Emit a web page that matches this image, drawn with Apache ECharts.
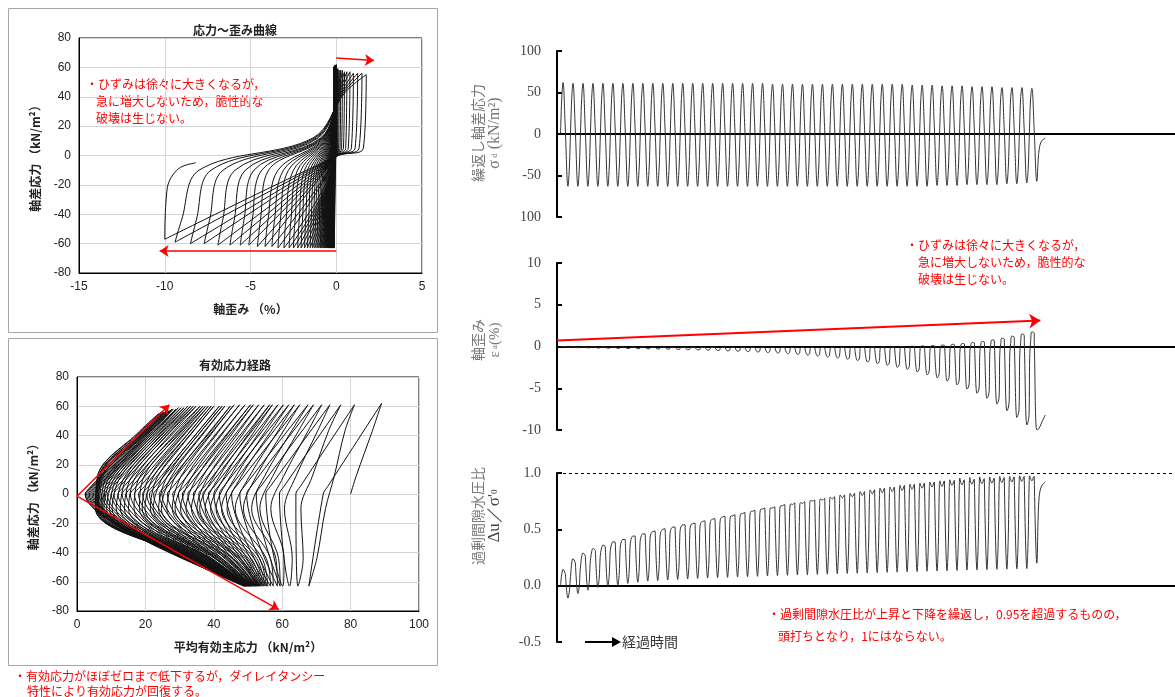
<!DOCTYPE html>
<html>
<head>
<meta charset="utf-8">
<script src="https://cdn.jsdelivr.net/npm/echarts@6.0.0/dist/echarts.min.js"></script>
<style>
  html, body { margin: 0; padding: 0; background: #fff; }
  #chart { width: 1175px; height: 697px; }
</style>
</head>
<body>
<div id="chart"></div>
<script>
// cycle i is sampled at fixed instants: on the way up at stress levels -44, -10, +12, +43,
// then at the peak, at +5 and 0 on the way down, and at the trough
const riseOffsets = [-0.125, -0.026, 0.032, 0.125];
const riseLevels = [-44, -10, 12, 43];
const fallOffset = 0.487;
const fallLevel = 5;

const stressPeak = [62, 61, 61, 61, 61, 61, 61, 61, 61, 61, 61, 61, 61, 61, 61, 61, 61, 61, 61, 61,
  61, 60, 60, 60, 60, 60, 60, 60, 60, 60, 60, 60, 60, 60, 60, 59, 59, 59, 58, 58,
  58, 57, 57, 57, 56, 56, 56, 55];
const stressTrough = [-63, -63, -63, -63, -63, -63, -63, -63, -63, -63, -63, -63, -63, -63, -63, -63, -63, -63, -63, -63,
  -63, -63, -63, -63, -63, -63, -63, -63, -63, -63, -63, -63, -63, -63, -63, -63, -63, -62, -62, -62,
  -61, -61, -61, -61, -60, -60, -59, -57];

// axial strain (%)
const strainRiseLow = [null, -0.11, -0.13, -0.15, -0.17, -0.19, -0.21, -0.23, -0.25, -0.27, -0.29, -0.31, -0.34, -0.36, -0.39, -0.42, -0.46, -0.5, -0.54, -0.59,
  -0.63, -0.69, -0.75, -0.82, -0.89, -0.98, -1.08, -1.2, -1.32, -1.46, -1.61, -1.78, -1.97, -2.16, -2.4, -2.64, -2.93, -3.26, -3.6, -3.98,
  -4.42, -4.9, -5.38, -5.95, -6.62, -7.39, -8.16, -9.02];
const strainKneeLow = [null, -0.1, -0.11, -0.13, -0.15, -0.16, -0.18, -0.2, -0.21, -0.23, -0.25, -0.26, -0.29, -0.31, -0.34, -0.36, -0.39, -0.43, -0.46, -0.5,
  -0.54, -0.59, -0.64, -0.7, -0.76, -0.84, -0.93, -1.03, -1.13, -1.25, -1.38, -1.52, -1.68, -1.85, -2.05, -2.26, -2.5, -2.79, -3.08, -3.4,
  -3.95, -4.35, -4.8, -5.3, -5.9, -6.6, -7.3, -8.0];
const strainKneeHigh = [0, -0.03, -0.04, -0.04, -0.05, -0.05, -0.06, -0.06, -0.07, -0.07, -0.08, -0.08, -0.09, -0.1, -0.1, -0.11, -0.12, -0.13, -0.14, -0.15,
  -0.16, -0.17, -0.18, -0.2, -0.21, -0.23, -0.25, -0.27, -0.29, -0.31, -0.34, -0.37, -0.4, -0.44, -0.48, -0.52, -0.56, -0.6, -0.65, -0.7,
  -0.75, -0.8, -0.85, -0.9, -1.05, -1.15, -1.25, -1.35];
const strainRiseMid = [0, -0.02, -0.03, -0.03, -0.04, -0.04, -0.05, -0.05, -0.06, -0.06, -0.07, -0.07, -0.08, -0.08, -0.09, -0.09, -0.1, -0.1, -0.1, -0.11,
  -0.11, -0.12, -0.12, -0.12, -0.12, -0.12, -0.12, -0.11, -0.1, -0.09, -0.08, -0.07, -0.06, -0.05, -0.03, 0, 0.02, 0.03, 0.05, 0.07,
  0.1, 0.13, 0.17, 0.22, 0.28, 0.35, 0.43, 0.52];
const strainPeak = [0, -0.02, -0.03, -0.03, -0.04, -0.04, -0.05, -0.05, -0.06, -0.06, -0.07, -0.07, -0.08, -0.08, -0.09, -0.09, -0.1, -0.1, -0.1, -0.11,
  -0.11, -0.12, -0.12, -0.12, -0.12, -0.12, -0.12, -0.11, -0.1, -0.09, -0.08, -0.06, -0.04, -0.02, 0, 0.03, 0.06, 0.1, 0.17, 0.26,
  0.36, 0.48, 0.62, 0.8, 1.0, 1.25, 1.5, 1.75];
const strainFall = [-0.02, -0.04, -0.05, -0.05, -0.06, -0.06, -0.07, -0.07, -0.08, -0.08, -0.09, -0.09, -0.1, -0.1, -0.11, -0.11, -0.12, -0.12, -0.12, -0.13,
  -0.13, -0.14, -0.14, -0.14, -0.14, -0.14, -0.14, -0.13, -0.12, -0.11, -0.1, -0.08, -0.06, -0.04, -0.02, 0.02, 0.05, 0.08, 0.14, 0.22,
  0.31, 0.42, 0.55, 0.7, 0.88, 1.1, 1.33, 1.58];
const strainDown = [-0.03, -0.05, -0.06, -0.06, -0.07, -0.07, -0.08, -0.08, -0.09, -0.09, -0.1, -0.1, -0.11, -0.11, -0.12, -0.12, -0.13, -0.13, -0.13, -0.14,
  -0.14, -0.15, -0.15, -0.15, -0.15, -0.15, -0.15, -0.14, -0.13, -0.12, -0.11, -0.09, -0.07, -0.05, -0.03, 0, 0, 0.02, 0.03, 0.04,
  0.05, 0.06, 0.07, 0.08, 0.08, 0.09, 0.1, 0.1];
const strainTrough = [-0.12, -0.14, -0.16, -0.18, -0.2, -0.22, -0.24, -0.26, -0.28, -0.3, -0.32, -0.35, -0.38, -0.41, -0.44, -0.48, -0.52, -0.56, -0.61, -0.66,
  -0.72, -0.78, -0.85, -0.93, -1.02, -1.13, -1.25, -1.38, -1.52, -1.68, -1.85, -2.05, -2.25, -2.5, -2.75, -3.05, -3.4, -3.75, -4.15, -4.6,
  -5.1, -5.6, -6.2, -6.9, -7.7, -8.5, -9.4, -10.0];

// excess pore water pressure ratio Δu/σ'0
const ruRiseLow = [null, -0.06, -0.01, 0.03, 0.06, 0.08, 0.09, 0.11, 0.125, 0.14, 0.15, 0.16, 0.17, 0.18, 0.19, 0.2, 0.21, 0.22, 0.224, 0.23,
  0.245, 0.25, 0.26, 0.265, 0.273, 0.287, 0.293, 0.3, 0.307, 0.313, 0.326, 0.33, 0.335, 0.34, 0.345, 0.35, 0.355, 0.36, 0.365, 0.37,
  0.375, 0.38, 0.383, 0.386, 0.39, 0.393, 0.396, 0.4];
const ruKneeLow = [null, 0.05, 0.14, 0.2, 0.25, 0.29, 0.32, 0.35, 0.38, 0.41, 0.43, 0.45, 0.47, 0.49, 0.51, 0.52, 0.54, 0.56, 0.58, 0.6,
  0.61, 0.63, 0.65, 0.66, 0.68, 0.69, 0.71, 0.72, 0.73, 0.75, 0.77, 0.785, 0.8, 0.815, 0.83, 0.84, 0.85, 0.86, 0.865, 0.87,
  0.875, 0.88, 0.88, 0.885, 0.885, 0.89, 0.89, 0.89];
const ruKneeHigh = [0.03, 0.11, 0.19, 0.25, 0.295, 0.335, 0.365, 0.395, 0.42, 0.45, 0.47, 0.49, 0.51, 0.53, 0.55, 0.57, 0.59, 0.61, 0.63, 0.65,
  0.67, 0.69, 0.705, 0.72, 0.735, 0.755, 0.77, 0.785, 0.805, 0.82, 0.835, 0.85, 0.865, 0.875, 0.89, 0.9, 0.91, 0.92, 0.93, 0.94,
  0.955, 0.96, 0.965, 0.965, 0.97, 0.97, 0.975, 0.975];
const ruRiseMid = [0.1, 0.2, 0.26, 0.3, 0.335, 0.37, 0.395, 0.425, 0.445, 0.47, 0.49, 0.51, 0.53, 0.545, 0.565, 0.585, 0.605, 0.62, 0.64, 0.66,
  0.68, 0.69, 0.71, 0.725, 0.735, 0.755, 0.765, 0.78, 0.795, 0.805, 0.82, 0.835, 0.845, 0.855, 0.865, 0.875, 0.885, 0.895, 0.9, 0.91,
  0.915, 0.92, 0.925, 0.93, 0.935, 0.94, 0.945, 0.95];
const ruPeak = [0.145, 0.24, 0.29, 0.33, 0.36, 0.39, 0.41, 0.44, 0.46, 0.48, 0.5, 0.52, 0.54, 0.55, 0.57, 0.59, 0.61, 0.62, 0.64, 0.66,
  0.68, 0.69, 0.71, 0.72, 0.73, 0.75, 0.76, 0.77, 0.78, 0.79, 0.8, 0.815, 0.825, 0.835, 0.845, 0.855, 0.865, 0.875, 0.88, 0.89,
  0.895, 0.9, 0.905, 0.91, 0.915, 0.92, 0.925, 0.93];
const ruFall = [0.105, 0.205, 0.265, 0.315, 0.35, 0.385, 0.41, 0.44, 0.46, 0.485, 0.505, 0.52, 0.54, 0.555, 0.575, 0.595, 0.615, 0.63, 0.65, 0.67,
  0.69, 0.7, 0.72, 0.735, 0.745, 0.76, 0.775, 0.79, 0.805, 0.82, 0.835, 0.85, 0.865, 0.875, 0.89, 0.9, 0.91, 0.92, 0.93, 0.935,
  0.94, 0.945, 0.95, 0.955, 0.96, 0.965, 0.97, 0.97];
const ruDown = [0.1, 0.2, 0.26, 0.31, 0.345, 0.38, 0.405, 0.435, 0.455, 0.48, 0.5, 0.52, 0.54, 0.555, 0.575, 0.595, 0.615, 0.63, 0.65, 0.67,
  0.69, 0.7, 0.72, 0.735, 0.745, 0.76, 0.775, 0.79, 0.805, 0.82, 0.835, 0.85, 0.865, 0.875, 0.89, 0.9, 0.91, 0.92, 0.93, 0.935,
  0.94, 0.945, 0.95, 0.955, 0.96, 0.965, 0.97, 0.97];
const ruTrough = [-0.11, -0.07, -0.04, -0.015, -0.005, 0.005, 0.02, 0.03, 0.04, 0.045, 0.05, 0.055, 0.06, 0.064, 0.068, 0.071, 0.074, 0.077, 0.08, 0.083,
  0.086, 0.089, 0.092, 0.095, 0.098, 0.1, 0.102, 0.105, 0.108, 0.11, 0.113, 0.116, 0.118, 0.12, 0.123, 0.125, 0.128, 0.13, 0.132, 0.135,
  0.138, 0.14, 0.142, 0.145, 0.147, 0.15, 0.152, 0.2];

// unloading after the last trough
const tailTime = [47.95, 48.2, 48.6];
const tailStress = [-22, -9, -5];
const tailStrain = [-9.85, -9.2, -8.2];
const tailRu = [0.75, 0.88, 0.92];

const sigma0 = 80; // initial effective confining stress (kN/m2)

const samples = [[0, 0, 0, 0]];
for (let i = 0; i < stressPeak.length; i++) {
  const rise = [
    [strainRiseLow[i], ruRiseLow[i]],
    [strainKneeLow[i], ruKneeLow[i]],
    [strainKneeHigh[i], ruKneeHigh[i]],
    [strainRiseMid[i], ruRiseMid[i]]
  ];
  rise.forEach((r, k) => {
    if (r[0] !== null) samples.push([i + riseOffsets[k], riseLevels[k], r[0], r[1]]);
  });
  samples.push([i + 0.25, stressPeak[i], strainPeak[i], ruPeak[i]]);
  samples.push([i + fallOffset, fallLevel, strainFall[i], ruFall[i]]);
  samples.push([i + 0.5, 0, strainDown[i], ruDown[i]]);
  samples.push([i + 0.75, stressTrough[i], strainTrough[i], ruTrough[i]]);
}
tailTime.forEach((t, k) => samples.push([t, tailStress[k], tailStrain[k], tailRu[k]]));

const stressStrain = samples.map(s => [s[2], s[1]]);
const stressPath = samples.map(s => [sigma0 * (1 - s[3]) + s[1] / 3, s[1]]);
const stressTime = samples.map(s => [s[0], s[1]]);
const strainTime = samples.map(s => [s[0], s[2]]);
const ruTime = samples.map(s => [s[0], s[3]]);

const JP = '"Noto Sans CJK JP", sans-serif';
const RED = '#ff0000';

function boxAxis(min, max, interval, name, gap) {
  return {
    type: 'value', min, max, interval,
    name, nameLocation: 'middle', nameGap: gap,
    nameTextStyle: { fontFamily: JP, fontSize: 12, fontWeight: 'bold', color: '#222' },
    axisLine: { onZero: false, lineStyle: { color: '#000', width: 1 } },
    axisTick: { show: false },
    axisLabel: { fontFamily: 'Liberation Sans', fontSize: 12, color: '#222', margin: 8 },
    splitLine: { lineStyle: { color: '#d4d4d4', width: 1 } }
  };
}

function timeAxis(idx) {
  return {
    type: 'value', gridIndex: idx, min: -0.35, max: 61.6,
    axisLine: { onZero: true, lineStyle: { color: '#000', width: 2 } },
    axisTick: { show: false }, axisLabel: { show: false }, splitLine: { show: false }
  };
}

function levelAxis(idx, min, max, interval, fmt) {
  return {
    type: 'value', gridIndex: idx, min, max, interval,
    axisLine: { show: true, onZero: false, lineStyle: { color: '#000', width: 2 } },
    axisTick: { show: true, inside: true, length: 5, lineStyle: { color: '#000', width: 2 } },
    axisLabel: { fontFamily: 'Liberation Serif', fontSize: 14, color: '#444', margin: 16, formatter: fmt },
    splitLine: { show: false }
  };
}

function greyName(lines, x, y) {
  return lines.map((t, k) => ({
    type: 'text', x: x + k * 17, y, rotation: Math.PI / 2,
    style: { text: t.text, rich: t.rich, font: '14px ' + JP, fill: '#777', align: 'center', verticalAlign: 'middle' }
  }));
}

function redText(text, x, y) {
  return { type: 'text', x, y, style: { text, font: '12px ' + JP, fill: RED, verticalAlign: 'middle' } };
}

const serifRich = (size, color) => ({
  g: { fontFamily: 'Liberation Serif', fontSize: size, fill: color },
  sub: { fontFamily: 'Liberation Serif', fontSize: 9, fill: color }
});

const chart = echarts.init(document.getElementById('chart'));

chart.setOption({
  animation: false,
  backgroundColor: '#fff',
  title: [
    { text: '応力～歪み曲線', left: 230, top: 19, textAlign: 'center',
      textStyle: { fontFamily: JP, fontSize: 12, fontWeight: 'bold', color: '#222' } },
    { text: '有効応力経路', left: 230, top: 354, textAlign: 'center',
      textStyle: { fontFamily: JP, fontSize: 12, fontWeight: 'bold', color: '#222' } }
  ],
  grid: [
    { left: 79, top: 38, width: 343, height: 235, show: true, borderColor: '#000', borderWidth: 1 },
    { left: 77, top: 377, width: 342, height: 234, show: true, borderColor: '#000', borderWidth: 1 },
    { left: 557, top: 51, right: 0, height: 166 },
    { left: 557, top: 263, right: 0, height: 167 },
    { left: 557, top: 473, right: 0, height: 169 }
  ],
  xAxis: [
    Object.assign(boxAxis(-15, 5, 5, '軸歪み （%）', 30), { gridIndex: 0 }),
    Object.assign(boxAxis(0, 100, 20, '平均有効主応力 （kN/m²）', 30), { gridIndex: 1 }),
    timeAxis(2), timeAxis(3), timeAxis(4)
  ],
  yAxis: [
    Object.assign(boxAxis(-80, 80, 20, '軸差応力 （kN/m²）', 38), { gridIndex: 0 }),
    Object.assign(boxAxis(-80, 80, 20, '軸差応力 （kN/m²）', 38), { gridIndex: 1 }),
    levelAxis(2, -100, 100, 50, v => (v === -100 ? '100' : String(v))),
    levelAxis(3, -10, 10, 5, v => String(v)),
    levelAxis(4, -0.5, 1.0, 0.5, v => v.toFixed(1))
  ],
  series: [
    {
      type: 'line', xAxisIndex: 0, yAxisIndex: 0, data: stressStrain,
      smooth: 0.35, showSymbol: false, lineStyle: { color: '#111', width: 1 },
      markLine: {
        silent: true, symbol: ['none', 'arrow'], symbolSize: 9, label: { show: false },
        lineStyle: { color: RED, width: 1.5, type: 'solid' },
        data: [
          [{ coord: [0, 66.3] }, { coord: [2.2, 64.6] }],
          [{ coord: [0, -65] }, { coord: [-10.3, -65] }]
        ]
      }
    },
    {
      type: 'line', xAxisIndex: 1, yAxisIndex: 1, data: stressPath,
      smooth: 0.35, showSymbol: false, lineStyle: { color: '#111', width: 1 },
      markLine: {
        silent: true, symbol: ['none', 'arrow'], symbolSize: 9, label: { show: false },
        lineStyle: { color: RED, width: 1.5, type: 'solid' },
        data: [
          [{ coord: [0, -1.5] }, { coord: [27, 61] }],
          [{ coord: [0, -1.5] }, { coord: [59, -79] }]
        ]
      }
    },
    {
      type: 'line', xAxisIndex: 2, yAxisIndex: 2, data: stressTime,
      smooth: 0.4, showSymbol: false, lineStyle: { color: '#333', width: 1 }
    },
    {
      type: 'line', xAxisIndex: 3, yAxisIndex: 3, data: strainTime,
      smooth: 0.4, showSymbol: false, lineStyle: { color: '#333', width: 1 },
      markLine: {
        silent: true, symbol: ['none', 'arrow'], symbolSize: 11, label: { show: false },
        lineStyle: { color: RED, width: 2, type: 'solid' },
        data: [[{ coord: [-0.35, 0.72] }, { coord: [48.1, 3.1] }]]
      }
    },
    {
      type: 'line', xAxisIndex: 4, yAxisIndex: 4, data: ruTime,
      smooth: 0.4, showSymbol: false, lineStyle: { color: '#333', width: 1 },
      markLine: {
        silent: true, symbol: 'none', label: { show: false },
        lineStyle: { color: '#000', width: 1, type: [3, 3] },
        data: [{ yAxis: 1 }]
      }
    }
  ],
  graphic: [
    { type: 'rect', shape: { x: 8.5, y: 8.5, width: 429, height: 324 }, style: { fill: null, stroke: '#a6a6a6', lineWidth: 1 } },
    { type: 'rect', shape: { x: 8.5, y: 338.5, width: 429, height: 327 }, style: { fill: null, stroke: '#a6a6a6', lineWidth: 1 } },

    redText('・ひずみは徐々に大きくなるが，', 86, 84),
    redText('急に増大しないため，脆性的な', 96, 101),
    redText('破壊は生じない。', 96, 118),
    redText('・有効応力がほぼゼロまで低下するが，ダイレイタンシー', 14, 676),
    redText('特性により有効応力が回復する。', 27, 691),
    redText('・ひずみは徐々に大きくなるが，', 906, 245),
    redText('急に増大しないため，脆性的な', 918, 262),
    redText('破壊は生じない。', 918, 279),
    redText('・過剰間隙水圧比が上昇と下降を繰返し，0.95を超過するものの，', 768, 614),
    redText('頭打ちとなり，1にはならない。', 778, 636),

    ...greyName([
      { text: '繰返し軸差応力' },
      { text: '{g|σ}{sub| d}{g| (kN/m²)}', rich: serifRich(16, '#777') }
    ], 478, 133),
    ...greyName([
      { text: '軸歪み' },
      { text: '{g|ε}{sub| a}{g|(%)}', rich: serifRich(15, '#777') }
    ], 478, 340),
    ...greyName([
      { text: '過剰間隙水圧比' },
      { text: '{g|Δu／σ\'}{sub|0}', rich: serifRich(17, '#444') }
    ], 478, 516),

    { type: 'line', shape: { x1: 585, y1: 642, x2: 616, y2: 642 }, style: { stroke: '#000', lineWidth: 2 } },
    { type: 'polygon', shape: { points: [[621, 642], [612, 637], [612, 647]] }, style: { fill: '#000' } },
    { type: 'text', x: 622, y: 642, style: { text: '経過時間', font: '14px ' + JP, fill: '#333', verticalAlign: 'middle' } }
  ]
});
</script>
</body>
</html>
